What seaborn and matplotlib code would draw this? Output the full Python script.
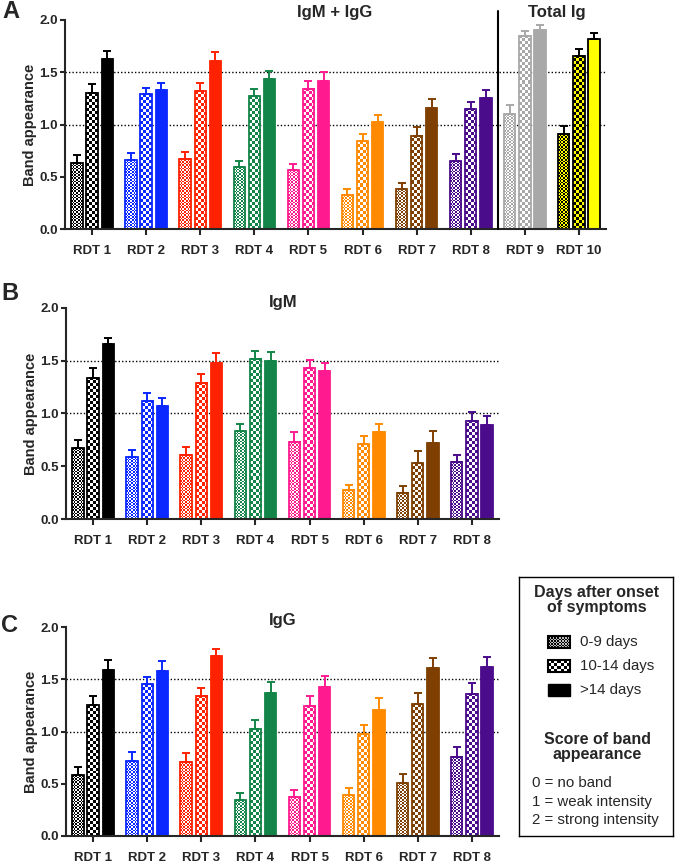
import numpy as np
import pandas as pd
import matplotlib
matplotlib.use("Agg")
import matplotlib.pyplot as plt
import matplotlib.colors as mcolors
from matplotlib.patches import Rectangle
import seaborn as sns

# ---------------- data ----------------
tests_A = ["RDT 1", "RDT 2", "RDT 3", "RDT 4", "RDT 5", "RDT 6", "RDT 7", "RDT 8", "RDT 9", "RDT 10"]
tests_BC = tests_A[:8]
days = ["0-9 days", "10-14 days", ">14 days"]

# Panel A: IgM + IgG (RDT 1-8) and Total Ig (RDT 9-10)
a_early = [0.63, 0.66, 0.67, 0.59, 0.56, 0.33, 0.38, 0.65, 1.10, 0.91]
a_mid = [1.30, 1.29, 1.32, 1.27, 1.34, 0.84, 0.89, 1.15, 1.85, 1.66]
a_late = [1.63, 1.33, 1.61, 1.44, 1.42, 1.02, 1.16, 1.25, 1.90, 1.82]
a_early_sem = [0.08, 0.07, 0.07, 0.06, 0.06, 0.055, 0.06, 0.07, 0.09, 0.08]
a_mid_sem = [0.09, 0.06, 0.08, 0.07, 0.08, 0.07, 0.09, 0.07, 0.04, 0.06]
a_late_sem = [0.07, 0.07, 0.08, 0.07, 0.08, 0.07, 0.08, 0.08, 0.05, 0.06]

# Panel B: IgM
b_early = [0.67, 0.585, 0.61, 0.83, 0.73, 0.275, 0.25, 0.545]
b_mid = [1.34, 1.12, 1.29, 1.52, 1.43, 0.71, 0.53, 0.93]
b_late = [1.655, 1.07, 1.48, 1.50, 1.40, 0.82, 0.72, 0.89]
b_early_sem = [0.08, 0.065, 0.07, 0.075, 0.09, 0.045, 0.06, 0.065]
b_mid_sem = [0.09, 0.07, 0.08, 0.07, 0.08, 0.08, 0.11, 0.08]
b_late_sem = [0.065, 0.08, 0.09, 0.08, 0.08, 0.085, 0.11, 0.09]

# Panel C: IgG
c_early = [0.58, 0.72, 0.71, 0.34, 0.375, 0.39, 0.505, 0.76]
c_mid = [1.25, 1.45, 1.34, 1.02, 1.245, 0.975, 1.26, 1.36]
c_late = [1.59, 1.58, 1.72, 1.37, 1.43, 1.21, 1.61, 1.615]
c_early_sem = [0.08, 0.08, 0.08, 0.07, 0.065, 0.07, 0.085, 0.09]
c_mid_sem = [0.09, 0.07, 0.08, 0.09, 0.095, 0.085, 0.11, 0.10]
c_late_sem = [0.09, 0.09, 0.07, 0.10, 0.10, 0.11, 0.09, 0.095]

# colours per test
fill_colors = ["#000000", "#0A28FF", "#FF2200", "#138548", "#FF1A90",
               "#FF8A00", "#7E3F00", "#4B0C8C", "#A8A8A8", "#FFFF00"]
edge_colors = ["#000000", "#0A28FF", "#FF2200", "#138548", "#FF1A90",
               "#FF8A00", "#7E3F00", "#4B0C8C", "#A8A8A8", "#000000"]
check_bg = ["#FFFFFF"] * 9 + ["#000000"]

# ---------------- style ----------------
sns.set_style("ticks")
plt.rcParams["font.family"] = ["Liberation Sans", "DejaVu Sans"]
plt.rcParams["axes.linewidth"] = 1.5

W, H = 675, 864
fig = plt.figure(figsize=(W / 100, H / 100), dpi=100)


def px_axes(left, top, right, bottom):
    return fig.add_axes([left / W, 1 - bottom / H, (right - left) / W, (bottom - top) / H])


def checker(ax, p, c_on, c_off, cell, fig_w, fig_h):
    x0, w, h = p.get_x(), p.get_width(), p.get_height()
    pos = ax.get_position()
    xl = ax.get_xlim()
    yl = ax.get_ylim()
    pxw = w / (xl[1] - xl[0]) * pos.width * fig_w
    pxh = h / (yl[1] - yl[0]) * pos.height * fig_h
    nc = max(1, int(round(pxw / cell)))
    nr = max(1, int(round(pxh / cell)))
    ii, jj = np.indices((nr, nc))
    mask = ((ii + jj) % 2).astype(bool)
    a = np.array(mcolors.to_rgb(c_on))
    b = np.array(mcolors.to_rgb(c_off))
    img = np.where(mask[..., None], a, b)
    ax.imshow(img, extent=(x0, x0 + w, 0, h), origin="lower", interpolation="nearest",
              aspect="auto", zorder=0.9)


def draw_panel(ax, tests, vals, sems):
    n = len(tests)
    df = pd.DataFrame({
        "test": tests * 3,
        "days": np.repeat(days, n),
        "value": np.concatenate([vals[0], vals[1], vals[2]]),
    })
    sns.barplot(data=df, x="test", y="value", hue="days", order=tests, hue_order=days,
                width=0.84, gap=0.25, errorbar=None, legend=False, ax=ax,
                palette=["#FFFFFF", "#FFFFFF", "#000000"], linewidth=1.3, saturation=1)
    ax.set_xlim(-0.5, n - 0.5)
    ax.set_ylim(0, 2.0)
    bar_conts = list(ax.containers)
    for k, cont in enumerate(bar_conts):
        xs = []
        for i, p in enumerate(cont.patches):
            p.set_edgecolor(edge_colors[i])
            p.set_zorder(1)
            if k == 2:
                p.set_facecolor(fill_colors[i])
            else:
                p.set_facecolor("none")
                checker(ax, p, fill_colors[i], check_bg[i], 1.6 if k == 0 else 3.0, W, H)
            xs.append(p.get_x() + p.get_width() / 2)
        for i, x in enumerate(xs):
            ax.errorbar(x, vals[k][i], yerr=[[0], [sems[k][i]]], color=edge_colors[i],
                        capsize=2.6, elinewidth=1.4, capthick=1.4, zorder=1.2)
    ax.set_xlim(-0.5, n - 0.5)
    ax.set_ylim(0, 2.0)
    ax.set_yticks([0, 0.5, 1.0, 1.5, 2.0])
    ax.set_yticklabels(["0.0", "0.5", "1.0", "1.5", "2.0"])
    for y in (1.0, 1.5):
        ax.axhline(y, color="black", ls=(0, (1, 1.5)), lw=1.0, zorder=0.5)
    ax.set_xlabel("")
    ax.set_ylabel("Band appearance", fontsize=10.5, fontweight="bold", labelpad=2)
    ax.tick_params(axis="both", direction="out", width=1.5, labelsize=9.5)
    ax.tick_params(axis="x", length=4.5, pad=7)
    ax.tick_params(axis="y", length=3.5, pad=1.5)
    for lab in ax.get_xticklabels() + ax.get_yticklabels():
        lab.set_fontweight("bold")
    sns.despine(ax=ax)


axA = px_axes(65, 20, 606, 229)
axB = px_axes(66, 308, 499, 519)
axC = px_axes(66, 627, 499, 836)

draw_panel(axA, tests_A, [a_early, a_mid, a_late], [a_early_sem, a_mid_sem, a_late_sem])
draw_panel(axB, tests_BC, [b_early, b_mid, b_late], [b_early_sem, b_mid_sem, b_late_sem])
draw_panel(axC, tests_BC, [c_early, c_mid, c_late], [c_early_sem, c_mid_sem, c_late_sem])

# separator in panel A
axA.axvline(7.5, ymin=0, ymax=1.045, color="black", lw=1.5, clip_on=False, zorder=3)


def ftext(x, y, s, **kw):
    fig.text(x / W, 1 - y / H, s, **kw)


ftext(2, 12, "A", fontsize=17, fontweight="bold", va="center", ha="left")
ftext(1, 293, "B", fontsize=17, fontweight="bold", va="center", ha="left")
ftext(1, 626, "C", fontsize=17, fontweight="bold", va="center", ha="left")
ftext(335, 13, "IgM + IgG", fontsize=12, fontweight="bold", va="center", ha="center")
ftext(557, 12, "Total Ig", fontsize=12, fontweight="bold", va="center", ha="center")
ftext(283, 302, "IgM", fontsize=12, fontweight="bold", va="center", ha="center")
ftext(283, 620, "IgG", fontsize=12, fontweight="bold", va="center", ha="center")

# ---------------- legend box ----------------
L, T, R, B = 519, 577, 673, 836
axL = px_axes(L, T, R, B)
axL.set_xlim(0, R - L)
axL.set_ylim(B - T, 0)
axL.set_xticks([])
axL.set_yticks([])
for s in axL.spines.values():
    s.set_visible(True)
    s.set_linewidth(1.0)
    s.set_color("black")

axL.text(78, 23, "Days after onset\nof symptoms", fontsize=11.5, fontweight="bold",
         ha="center", va="center", linespacing=1.05)
legend_cells = [1.6, 3.0, None]
for j, (lab, yc) in enumerate(zip(days, [65, 89, 113])):
    x0, x1 = 29, 51
    if legend_cells[j] is None:
        axL.add_patch(Rectangle((x0, yc - 6), x1 - x0, 12, facecolor="black", edgecolor="black", lw=1))
    else:
        nc = int(round((x1 - x0) / legend_cells[j]))
        nr = int(round(12 / legend_cells[j]))
        ii, jj = np.indices((nr, nc))
        mask = ((ii + jj) % 2).astype(bool)
        img = np.where(mask[..., None], np.array([0.0, 0.0, 0.0]),
                       np.array([1.0, 1.0, 1.0]) if j == 1 else np.array([0.75, 0.75, 0.75]))
        axL.imshow(img, extent=(x0, x1, yc + 6, yc - 6), interpolation="nearest", aspect="auto", zorder=1)
        axL.add_patch(Rectangle((x0, yc - 6), x1 - x0, 12, facecolor="none", edgecolor="black", lw=1.5, zorder=2))
    axL.text(61, yc, lab, fontsize=10.8, ha="left", va="center")
axL.set_xlim(0, R - L)
axL.set_ylim(B - T, 0)

axL.text(78, 170, "Score of band\nappearance", fontsize=11.5, fontweight="bold",
         ha="center", va="center", linespacing=1.05)
for txt, yc in zip(["0 = no band", "1 = weak intensity", "2 = strong intensity"], [206, 225, 243]):
    axL.text(13, yc, txt, fontsize=10.8, ha="left", va="center")

fig.savefig("out.png", dpi=100)
